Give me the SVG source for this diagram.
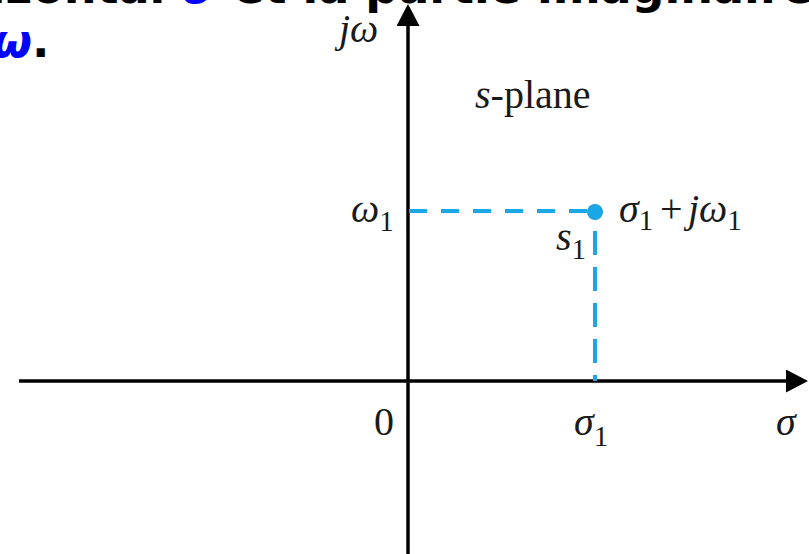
<svg xmlns="http://www.w3.org/2000/svg" width="809" height="554" viewBox="0 0 809 554">
  <style>
    .cap { font-family: "DejaVu Sans", sans-serif; font-weight: bold; font-size: 46px; fill: #000; }
    .blue { fill: #0000ff; font-style: italic; }
    .m { font-family: "Liberation Serif", "Times New Roman", serif; font-size: 40px; fill: #1a1a1a; }
    .it { font-style: italic; }
    .sub { font-size: 29px; font-style: normal; }
    .axis { stroke: #000; stroke-width: 3.5; fill: none; }
    .dash { stroke: #1ba6e6; stroke-width: 4; fill: none; }
  </style>
  <defs>
    <marker id="arrow" markerUnits="userSpaceOnUse" markerWidth="24" markerHeight="24" refX="0" refY="11.5" orient="auto">
      <path d="M0,0 L22,11.5 L0,23 Z" fill="#000"/>
    </marker>
  </defs>
  <rect width="809" height="554" fill="#fff"/>

  <g id="caption">
    <text class="cap" x="-33" y="3">rizontal <tspan class="blue">σ</tspan> et la partie imaginaire</text>
    <text class="cap" x="-8" y="57"><tspan class="blue">ω</tspan>.</text>
  </g>

  <g id="connectors">
    <line class="axis" x1="408" y1="554" x2="408" y2="26" marker-end="url(#arrow)"/>
    <line class="axis" x1="19" y1="381" x2="786" y2="381" marker-end="url(#arrow)"/>
    <line class="dash" x1="409" y1="211" x2="590" y2="211" stroke-dasharray="18 14"/>
    <line class="dash" x1="595" y1="231" x2="595" y2="381" stroke-dasharray="24 12"/>
  </g>

  <g id="point-s1">
    <circle cx="595" cy="212" r="8" fill="#1ba6e6"/>
    <text class="m it" x="556" y="250">s<tspan class="sub" dy="9">1</tspan></text>
    <text class="m it" x="619" y="222">σ<tspan class="sub" dy="8">1</tspan></text>
    <text class="m" x="660" y="222">+</text>
    <text class="m it" x="688" y="222">jω<tspan class="sub" dy="8">1</tspan></text>
  </g>

  <g id="labels">
    <text class="m it" x="339" y="42">jω</text>
    <text class="m" x="475" y="108"><tspan class="it">s</tspan>-plane</text>
    <text class="m it" x="351" y="222">ω<tspan class="sub" dy="9">1</tspan></text>
    <text class="m" x="374" y="435" font-size="46">0</text>
    <text class="m it" x="574" y="435">σ<tspan class="sub" font-size="36" dy="11">1</tspan></text>
    <text class="m it" x="776" y="435">σ</text>
  </g>
</svg>
